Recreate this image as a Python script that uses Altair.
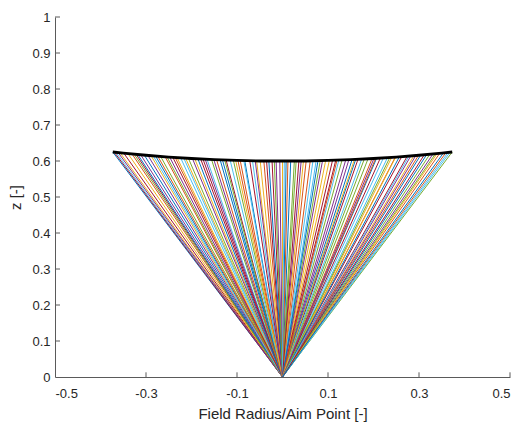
import altair as alt
import pandas as pd

# Ray end points on the receiver surface, grouped by field ring (x = radius, z = height)
ring_x = [
    [-0.373, -0.331, -0.289, -0.248, -0.207, -0.166, -0.124, -0.083, -0.041, 0.000,
     0.041, 0.083, 0.124, 0.166, 0.207, 0.248, 0.289, 0.331, 0.373],
    [-0.366, -0.322, -0.279, -0.236, -0.193, -0.151, -0.108, -0.066, -0.023, 0.018,
     0.061, 0.103, 0.146, 0.188, 0.231, 0.274, 0.317, 0.359],
    [-0.357, -0.312, -0.268, -0.224, -0.180, -0.137, -0.093, -0.049, -0.006, 0.030,
     0.074, 0.117, 0.161, 0.205, 0.249, 0.293, 0.336, 0.368],
    [-0.349, -0.304, -0.258, -0.213, -0.170, -0.127, -0.085, -0.035, 0.008, 0.052,
     0.095, 0.139, 0.180, 0.222, 0.262, 0.304, 0.346],
    [-0.340, -0.296, -0.254, -0.217, -0.175, -0.132, -0.098, -0.057, -0.014, 0.026,
     0.067, 0.110, 0.153, 0.197, 0.240, 0.282, 0.324, 0.364],
    [-0.370, -0.318, -0.274, -0.232, -0.198, -0.156, -0.115, -0.072, -0.030, 0.012,
     0.046, 0.088, 0.131, 0.174, 0.215, 0.257, 0.299, 0.340],
    [-0.361, -0.326, -0.284, -0.241, -0.186, -0.145, -0.103, -0.060, -0.018, 0.004,
     0.036, 0.078, 0.120, 0.158, 0.201, 0.236, 0.278, 0.312, 0.354],
]
ring_z = [
    [0.625, 0.620, 0.615, 0.611, 0.608, 0.605, 0.603, 0.601, 0.600, 0.600,
     0.600, 0.601, 0.603, 0.605, 0.608, 0.611, 0.615, 0.620, 0.625],
    [0.624, 0.619, 0.614, 0.610, 0.607, 0.604, 0.602, 0.601, 0.600, 0.600,
     0.601, 0.602, 0.604, 0.606, 0.610, 0.613, 0.618, 0.623],
    [0.623, 0.618, 0.613, 0.609, 0.606, 0.603, 0.602, 0.600, 0.600, 0.600,
     0.601, 0.602, 0.605, 0.608, 0.611, 0.615, 0.620, 0.624],
    [0.622, 0.617, 0.612, 0.608, 0.605, 0.603, 0.601, 0.600, 0.600, 0.600,
     0.602, 0.603, 0.606, 0.609, 0.612, 0.617, 0.622],
    [0.621, 0.616, 0.612, 0.608, 0.606, 0.603, 0.602, 0.601, 0.600, 0.600,
     0.601, 0.602, 0.604, 0.607, 0.610, 0.614, 0.619, 0.624],
    [0.625, 0.618, 0.613, 0.610, 0.607, 0.604, 0.602, 0.601, 0.600, 0.600,
     0.600, 0.601, 0.603, 0.605, 0.608, 0.612, 0.616, 0.621],
    [0.623, 0.619, 0.614, 0.610, 0.606, 0.604, 0.602, 0.601, 0.600, 0.600,
     0.600, 0.601, 0.603, 0.604, 0.607, 0.610, 0.614, 0.618, 0.623],
]

# Receiver surface profile
surf_x = [-0.373, -0.35, -0.3, -0.25, -0.2, -0.15, -0.1, -0.05, 0.0,
          0.05, 0.1, 0.15, 0.2, 0.25, 0.3, 0.35, 0.373]
surf_z = [0.625, 0.622, 0.616, 0.611, 0.607, 0.604, 0.602, 0.600, 0.600,
          0.600, 0.602, 0.604, 0.607, 0.611, 0.616, 0.622, 0.625]

x_ticks = [-0.5, -0.3, -0.1, 0.1, 0.3, 0.5]
y_ticks = [0, 0.1, 0.2, 0.3, 0.4, 0.5, 0.6, 0.7, 0.8, 0.9, 1]

# default line colour order, cycled over the rays
palette = ["#0072BD", "#D95319", "#EDB120", "#7E2F8E", "#77AC30", "#4DBEEE", "#A2142F"]

rows = []
k = 0
for xs_, zs_ in zip(ring_x, ring_z):
    for x, z in zip(xs_, zs_):
        rows.append({"x0": 0.0, "z0": 0.0, "x": x, "z": z, "c": palette[k % len(palette)]})
        k += 1
rays = pd.DataFrame(rows)
surf = pd.DataFrame({"x": surf_x, "z": surf_z})

axis_col = "#5a5a5a"
text_col = "#262626"
font = "Liberation Sans"

xs = alt.Scale(domain=[-0.5, 0.5], nice=False, zero=False)
ys = alt.Scale(domain=[0, 1], nice=False, zero=False)

# one axis definition shared by every layer so the merged axes stay identical
x_axis = alt.Axis(values=x_ticks, labelExpr="'' + datum.value", grid=False, ticks=False,
                  labelOverlap=False, domainColor=axis_col, labelColor=text_col,
                  labelFont=font, labelFontSize=13, labelPadding=10,
                  title="Field Radius/Aim Point [-]", titleFont=font, titleFontSize=15,
                  titleFontWeight="normal", titleColor=text_col, titlePadding=6)
y_axis = alt.Axis(values=y_ticks, labelExpr="'' + datum.value", grid=False, ticks=False,
                  labelOverlap=False, domainColor=axis_col, labelColor=text_col,
                  labelFont=font, labelFontSize=13, labelPadding=5,
                  title="z [-]", titleFont=font, titleFontSize=15,
                  titleFontWeight="normal", titleColor=text_col, titlePadding=8)

ray_layer = alt.Chart(rays).mark_rule(strokeWidth=1).encode(
    x=alt.X("x0:Q", scale=xs, axis=x_axis),
    y=alt.Y("z0:Q", scale=ys, axis=y_axis),
    x2="x:Q",
    y2="z:Q",
    color=alt.Color("c:N", scale=None),
)

surf_layer = alt.Chart(surf).mark_line(color="black", strokeWidth=2.8).encode(
    x=alt.X("x:Q", scale=xs, axis=x_axis), y=alt.Y("z:Q", scale=ys, axis=y_axis)
)

# inward tick marks on both axes
xt = pd.DataFrame({"t": x_ticks[1:], "b": [0.0] * 5, "e": [0.013] * 5})
yt = pd.DataFrame({"t": y_ticks[1:], "b": [-0.5] * 10, "e": [-0.489] * 10})
xtick_layer = alt.Chart(xt).mark_rule(color=axis_col, strokeWidth=1).encode(
    x=alt.X("t:Q", scale=xs, axis=x_axis), y=alt.Y("b:Q", scale=ys, axis=y_axis), y2="e:Q"
)
ytick_layer = alt.Chart(yt).mark_rule(color=axis_col, strokeWidth=1).encode(
    y=alt.Y("t:Q", scale=ys, axis=y_axis), x=alt.X("b:Q", scale=xs, axis=x_axis), x2="e:Q"
)

chart = alt.layer(ray_layer, surf_layer, xtick_layer, ytick_layer).properties(
    width=455, height=360,
    autosize=alt.AutoSizeParams(type="none"),
    padding={"left": 55, "top": 17, "right": 13, "bottom": 49},
    background="white",
).configure_view(stroke=None)

chart.save("out.html", embed_options={"renderer": "svg", "actions": False})
